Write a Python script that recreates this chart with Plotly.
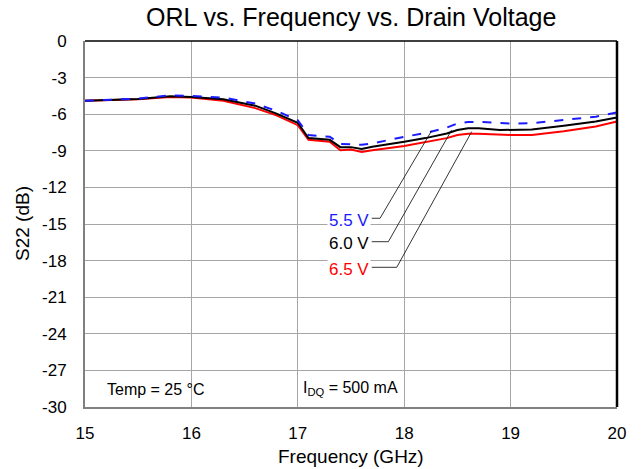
import plotly.graph_objects as go

freq = [15.0, 15.5, 15.8, 16.0, 16.3, 16.6, 16.8, 16.9, 17.0, 17.1, 17.3, 17.4, 17.5, 17.6, 17.7,
        18.0, 18.2, 18.4, 18.5, 18.6, 18.7, 18.9, 19.0, 19.2, 19.5, 19.8, 20.0]
s22_55 = [-4.9, -4.72, -4.45, -4.5, -4.64, -5.13, -5.73, -6.1, -6.5, -7.7, -7.85, -8.45, -8.45, -8.5, -8.4,
          -7.85, -7.55, -7.1, -6.76, -6.63, -6.63, -6.74, -6.76, -6.74, -6.5, -6.2, -5.86]
s22_60 = [-4.9, -4.75, -4.53, -4.58, -4.77, -5.3, -5.95, -6.35, -6.7, -7.96, -8.1, -8.7, -8.7, -8.86, -8.67,
          -8.26, -7.96, -7.58, -7.3, -7.15, -7.15, -7.3, -7.3, -7.25, -6.95, -6.6, -6.27]
s22_65 = [-4.9, -4.77, -4.6, -4.64, -4.9, -5.5, -6.1, -6.5, -6.9, -8.1, -8.26, -8.95, -8.9, -9.1, -8.95,
          -8.6, -8.3, -7.96, -7.7, -7.6, -7.6, -7.7, -7.7, -7.7, -7.4, -7.0, -6.6]

labels = ["5.5 V", "6.0 V", "6.5 V"]
label_colors = ["#1a1aff", "#000000", "#ff0000"]
label_y = [-14.53, -16.45, -18.55]
leader_x0 = 17.695
leader_x1 = [17.773, 17.851, 17.93]
leader_end_x = [18.258, 18.446, 18.634]
leader_end_y = [-7.35, -7.29, -7.43]

x_ticks = [15, 16, 17, 18, 19, 20]
y_ticks = [0, -3, -6, -9, -12, -15, -18, -21, -24, -27, -30]
y_ticktext = ["0", "-3", "-6", "-9", "-12", "-15", "-18", "-21", "-24", "-27", "-30"]

FONT = "Liberation Sans, Arial"

fig = go.Figure()
fig.add_trace(go.Scatter(x=freq, y=s22_65, mode="lines", line=dict(color="#ff0000", width=2), showlegend=False))
fig.add_trace(go.Scatter(x=freq, y=s22_60, mode="lines", line=dict(color="#000000", width=2), showlegend=False))
fig.add_trace(go.Scatter(x=freq, y=s22_55, mode="lines", line=dict(color="#1a1aff", width=2, dash="dash"), showlegend=False))

for i in range(3):
    fig.add_trace(go.Scatter(x=[leader_x0, leader_x1[i], leader_end_x[i]],
                             y=[label_y[i], label_y[i], leader_end_y[i]],
                             mode="lines", line=dict(color="#000000", width=0.8), showlegend=False))
    fig.add_annotation(x=leader_x0 - 0.01, y=label_y[i], yshift=-2, text=labels[i], showarrow=False,
                       xanchor="right", yanchor="middle", bgcolor="white",
                       font=dict(color=label_colors[i], size=17, family=FONT))

fig.add_annotation(x=15.19, y=-28.6, text="Temp = 25 °C", showarrow=False, xanchor="left", yanchor="middle",
                   font=dict(size=16, family=FONT, color="black"))
fig.add_annotation(x=17.03, y=-28.5, text="I<sub>DQ</sub> = 500 mA", showarrow=False, xanchor="left", yanchor="middle",
                   font=dict(size=16, family=FONT, color="black"))

# titles as annotations for precise placement
fig.add_annotation(xref="paper", yref="paper", x=0.5, y=1, yshift=24, text="ORL vs. Frequency vs. Drain Voltage",
                   showarrow=False, xanchor="center", yanchor="middle", font=dict(size=25, family=FONT, color="black"))
fig.add_annotation(xref="paper", yref="paper", x=0.5, y=0, yshift=-49, text="Frequency (GHz)",
                   showarrow=False, xanchor="center", yanchor="middle", font=dict(size=19, family=FONT, color="black"))
fig.add_annotation(xref="paper", yref="paper", x=0, xshift=-63, y=0.5, text="S22 (dB)", textangle=-90,
                   showarrow=False, xanchor="center", yanchor="middle", font=dict(size=19, family=FONT, color="black"))

# top and right borders
fig.add_shape(type="line", xref="paper", yref="paper", x0=0, x1=1, y0=1, y1=1, line=dict(color="black", width=1.5))
fig.add_shape(type="line", xref="paper", yref="paper", x0=1, x1=1, y0=0, y1=1, line=dict(color="black", width=2.5))

fig.update_layout(
    width=641, height=469,
    margin=dict(l=85, r=24, t=41, b=62),
    paper_bgcolor="white", plot_bgcolor="white",
    font=dict(family=FONT, color="black"),
    xaxis=dict(range=[15, 20], tickvals=x_ticks, showgrid=True, gridcolor="#a6a6a6", gridwidth=1,
               showline=True, linecolor="#808080", linewidth=2, ticks="", zeroline=False, automargin=False,
               ticklabelstandoff=10, tickfont=dict(size=17)),
    yaxis=dict(range=[-30, 0], tickvals=y_ticks, ticktext=y_ticktext, showgrid=True, gridcolor="#a6a6a6", gridwidth=1,
               showline=True, linecolor="#808080", linewidth=2, ticks="", zeroline=False, automargin=False,
               ticklabelstandoff=13, tickfont=dict(size=17)),
)

fig.write_html("out.html", config={"displayModeBar": False},
               post_script="document.body.style.margin='0';document.body.style.overflow='hidden';")
